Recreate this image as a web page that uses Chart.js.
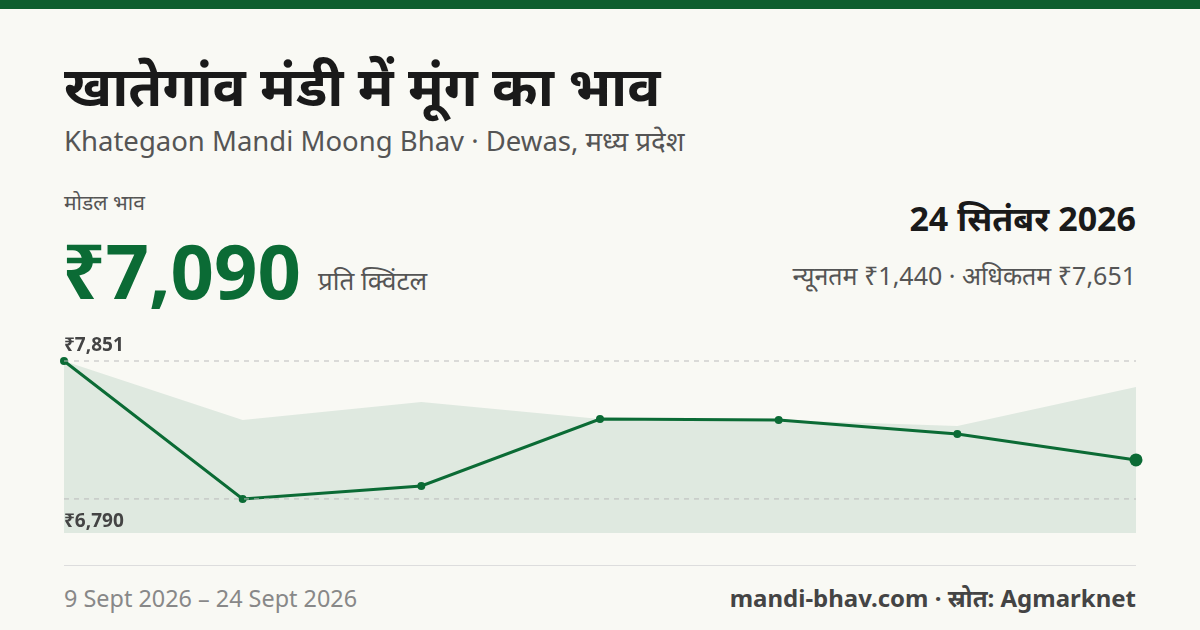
<!DOCTYPE html>
<html><head><meta charset="utf-8">
<script src="https://cdn.jsdelivr.net/npm/chart.js@4"></script>
<style>
body{margin:0;width:1200px;height:630px;background:#f9f9f4;font-family:"Noto Sans",sans-serif;position:relative;overflow:hidden;color:#1a1a1a}
.bar{position:absolute;left:0;top:0;width:1200px;height:9px;background:#0e5e2e}
.t{position:absolute;white-space:nowrap}
</style></head><body>
<div class="bar"></div>
<div class="t" style="left:64px;top:47px;font-size:55px;font-weight:700">खातेगांव मंडी में मूंग का भाव</div>
<div class="t" style="left:64px;top:122px;font-size:27.5px;color:#555">Khategaon Mandi Moong Bhav · Dewas, मध्य प्रदेश</div>
<div class="t" style="left:64px;top:188px;font-size:21px;color:#555">मोडल भाव</div>
<div class="t" style="left:62px;top:218px;font-size:76px;font-weight:700;color:#0b6b35">₹7,090</div>
<div class="t" style="left:318px;top:262px;font-size:26px;color:#555">प्रति क्विंटल</div>
<div class="t" style="right:64px;top:195px;font-size:34px;font-weight:700">24 सितंबर 2026</div>
<div class="t" style="right:64px;top:258px;font-size:25px;color:#555">न्यूनतम ₹1,440 · अधिकतम ₹7,651</div>
<div style="position:absolute;left:56px;top:320px;width:1088px;height:230px"><canvas id="c"></canvas></div>
<div style="position:absolute;left:64px;top:565px;width:1072px;height:1px;background:#ddd"></div>
<div class="t" style="left:64px;top:582px;font-size:23.4px;color:#888">9 Sept 2026 – 24 Sept 2026</div>
<div class="t" style="right:64px;top:581px;font-size:24px;font-weight:700;color:#444">mandi-bhav.com · स्रोत: Agmarknet</div>
<script>
var dates = ['9 Sept', '11 Sept', '13 Sept', '16 Sept', '18 Sept', '21 Sept', '24 Sept'];
var modalPrices = [7851, 6790, 6890, 7405, 7397, 7290, 7090];
var maxPrices = [7851, 7397, 7536, 7405, 7397, 7351, 7651];
var hiLabel = 7851, loLabel = 6790;

var refLines = {
  id: 'refLines',
  afterDatasetsDraw: function (chart) {
    var ctx = chart.ctx, y = chart.scales.y, a = chart.chartArea;
    ctx.save();
    ctx.font = 'bold 19px "Noto Sans"';
    ctx.fillStyle = '#444';
    [[hiLabel, -10], [loLabel, 28]].forEach(function (r) {
      var py = y.getPixelForValue(r[0]);
      ctx.strokeStyle = '#bbb';
      ctx.setLineDash([5, 5]);
      ctx.beginPath(); ctx.moveTo(a.left, py); ctx.lineTo(a.right, py); ctx.stroke();
      ctx.fillText('₹' + r[0].toLocaleString('en-IN'), a.left, py + r[1]);
    });
    ctx.restore();
  }
};

new Chart(document.getElementById('c'), {
  type: 'line',
  data: {
    labels: dates,
    datasets: [{
      data: modalPrices, borderColor: '#0b6b35', borderWidth: 3, fill: false,
      pointBackgroundColor: '#0b6b35', pointBorderWidth: 0,
      pointRadius: [4, 4, 4, 4, 4, 4, 6.5], tension: 0, clip: false, order: 0
    }, {
      data: maxPrices, borderWidth: 0, backgroundColor: '#dfe9e0', fill: 'start',
      pointRadius: 0, tension: 0, order: 1
    }]
  },
  options: {
    responsive: true, maintainAspectRatio: false, animation: false,
    layout: { padding: { left: 8, right: 8, top: 41, bottom: 17 } },
    plugins: { legend: { display: false }, tooltip: { enabled: false } },
    scales: {
      x: { display: false, offset: false },
      y: { display: false, min: 6528, max: 7851 }
    }
  },
  plugins: [refLines]
});
</script>
</body></html>
